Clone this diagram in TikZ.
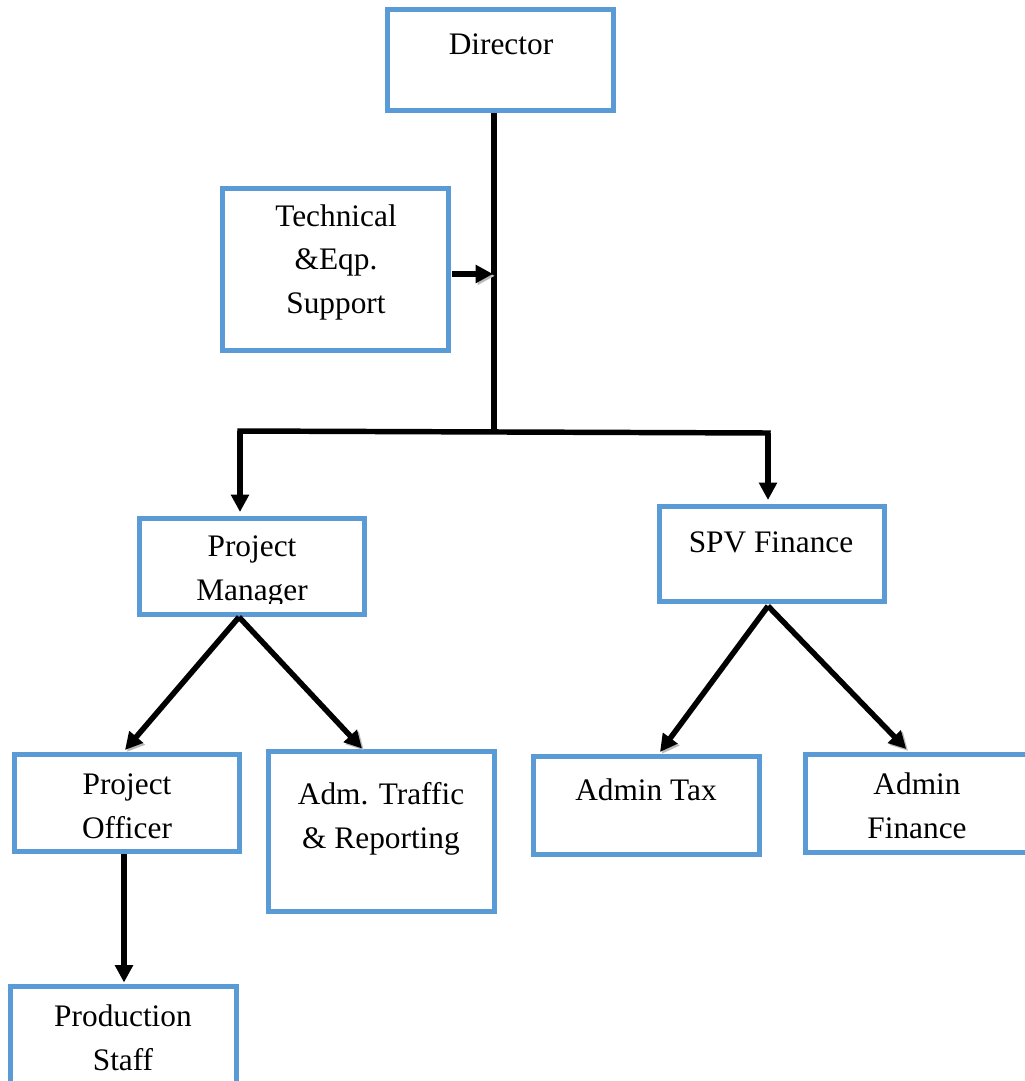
\documentclass[tikz,border=0pt]{standalone}
\usepackage{fontspec}
\setmainfont{Liberation Serif}
\usetikzlibrary{arrows.meta,fit,calc}
\definecolor{boxblue}{HTML}{5B9BD5}
\tikzset{
  orgbox/.style={draw=boxblue, line width=3.75pt, rectangle, inner sep=0pt, fill=white},
  lbl/.style={font=\fontsize{23.5}{32.5}\selectfont, align=center, anchor=base, inner sep=0pt},
  conn/.style={line width=4.1pt, draw=black},
  arr/.style={conn, -{Triangle[length=13pt,width=13pt]}},
  shad/.style={preaction={draw=gray!55, transform canvas={shift={(1.4pt,-1.4pt)}}}}
}
\begin{document}
\begin{tikzpicture}[x=0.75pt,y=-0.75pt]
\useasboundingbox (0,0) rectangle (1024,1081);
\fill[white] (0,0) rectangle (1024,1081);
% boxes
\node[orgbox, fit={(387.5,9.5) (613.5,110.5)}] (dir) {};
\node[orgbox, fit={(222.5,188.5) (448.5,350.5)}] (tech) {};
\node[orgbox, fit={(139.5,518.5) (364.5,614.5)}] (pm) {};
\node[orgbox, fit={(659.5,506.5) (884.5,601.5)}] (spv) {};
\node[orgbox, fit={(14.5,754.5) (239.5,851.5)}] (po) {};
\node[orgbox, fit={(268.5,751.5) (494.5,911.5)}] (adm) {};
\node[orgbox, fit={(533.5,756.5) (759.5,854.5)}] (tax) {};
\node[orgbox, fit={(805.5,754.5) (1034,852.5)}] (fin) {};
\node[orgbox, fit={(10.5,986.5) (236.5,1095)}] (staff) {};
% texts (anchor base = baseline of the last line)
\node[lbl] (dirT) at (501,55) {Director};
\node[lbl] (techT) at (336,313) {Technical\\\&Eqp.\\Support};
\begin{scope}
\clip (139.5,518.5) rectangle (364.5,603);
\node[lbl] (pmT) at (252,600) {Project\\Manager};
\end{scope}
\node[lbl] (spvT) at (771,552) {SPV Finance};
\node[lbl] (poT) at (127,838) {Project\\Officer};
\node[lbl] (admT) at (381,848) {Adm. Traffic\\\& Reporting};
\node[lbl] (taxT) at (646,800) {Admin Tax};
\node[lbl] (finT) at (917,838) {Admin\\Finance};
\node[lbl] (staffT) at (123,1070) {Production\\Staff};
% connectors
\coordinate (j) at (494,432);
\coordinate (bl) at (240,431);
\coordinate (br) at (768,433);
\coordinate (tj) at (493,274);
\draw[conn] (dir.south -| j) -- (j);
\draw[conn, line cap=rect] (bl) -- (br);
\draw[arr, shad] ($(tech.east)+(1,4.5)$) -- (tj);
\draw[arr] (bl) -- ($(pm.north)+(-12,-4)$);
\draw[arr] (br) -- ($(spv.north)+(-4,-4)$);
\draw[arr, shad] ($(pm.south)+(-13,0)$) -- ($(po.north)+(-2,-2)$);
\draw[arr, shad] ($(pm.south)+(-13,0)$) -- ($(adm.north)+(-19.5,-0.5)$);
\draw[arr, shad] ($(spv.south)+(-4,2)$) -- ($(tax.north)+(13.5,-2)$);
\draw[arr, shad] ($(spv.south)+(-4,2)$) -- ($(fin.north)+(-13.5,-3)$);
\draw[arr] ($(po.south)+(-3,0)$) -- ($(staff.north)+(0.5,-1.5)$);
\end{tikzpicture}
\end{document}
